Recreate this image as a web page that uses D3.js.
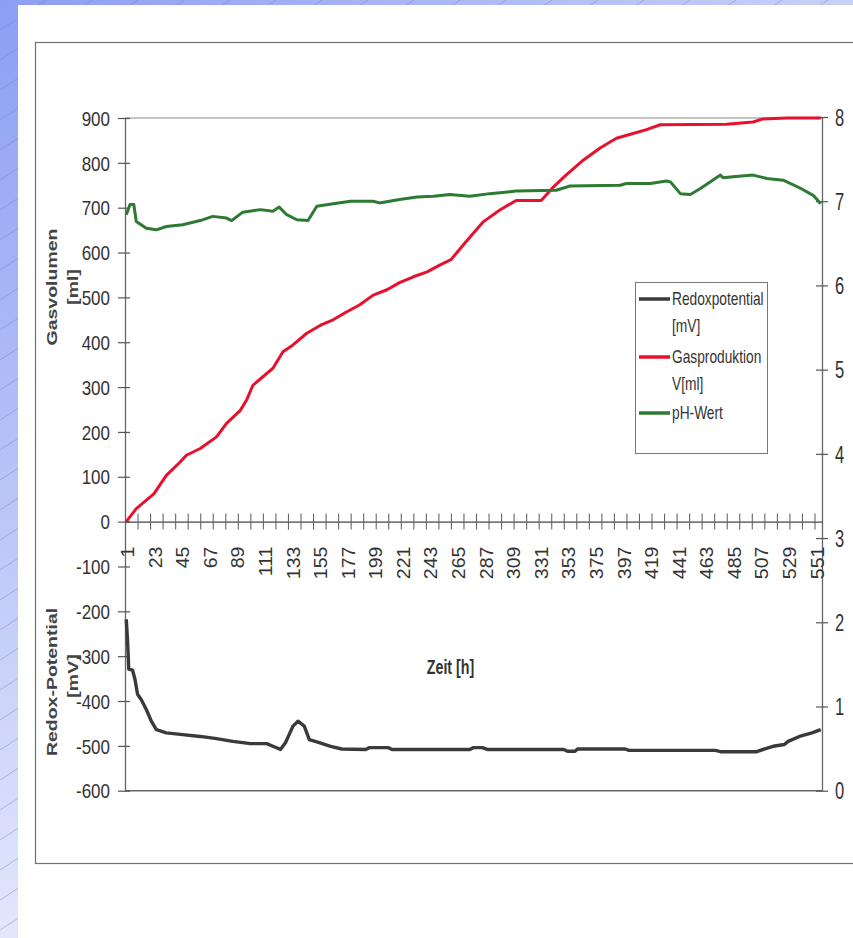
<!DOCTYPE html>
<html><head><meta charset="utf-8">
<script src="https://cdn.jsdelivr.net/npm/d3@7"></script>
<style>html,body{margin:0;padding:0;background:#fff;} svg{display:block;}</style>
</head><body>
<svg id="c" width="853" height="938"></svg>
<script>
// ---------- data ----------
const xLabels = [1,23,45,67,89,111,133,155,177,199,221,243,265,287,309,331,353,375,397,419,441,463,485,507,529,551];
const leftTicks = [900,800,700,600,500,400,300,200,100,0,-100,-200,-300,-400,-500,-600];
const rightTicks = [0,1,2,3,4,5,6,7,8];

// Gasproduktion V[ml]  [hour, ml]
const gasPoints = [[1,0],[9,29],[23,62],[33,103],[44,133],[49,148],[60,163],[73,189],[81,219],[92,248],[97,271],[102,304],[110,323],[118,342],[126,379],[134,394],[145,420],[156,438],[166,450],[177,468],[187,483],[198,505],[209,517],[219,533],[230,546],[241,557],[251,572],[260,584],[272,624],[286,669],[299,695],[312,716],[332,716],[341,744],[352,773],[366,807],[379,833],[392,855],[406,866],[416,874],[427,885],[480,886],[501,891],[509,898],[528,900],[555,900]];

// pH-Wert  [hour, pH]
const phPoints = [[1,6.84],[4,6.96],[7,6.96],[9,6.76],[17,6.68],[25,6.66],[33,6.70],[46,6.72],[60,6.77],[70,6.82],[81,6.80],[85,6.77],[94,6.87],[108,6.90],[118,6.88],[123,6.93],[129,6.84],[137,6.78],[146,6.77],[153,6.94],[166,6.97],[180,7.00],[198,7.00],[203,6.98],[219,7.02],[233,7.05],[246,7.06],[259,7.08],[275,7.06],[291,7.09],[312,7.12],[344,7.13],[355,7.18],[395,7.19],[400,7.21],[419,7.21],[432,7.24],[435,7.23],[443,7.09],[451,7.08],[459,7.15],[467,7.23],[475,7.31],[477,7.28],[485,7.29],[501,7.31],[512,7.27],[525,7.25],[538,7.16],[549,7.07],[555,6.97]];

// Redoxpotential [mV]  [hour, mV]
const redoxPoints = [[1,-218],[2,-263],[3,-329],[6,-331],[8,-352],[10,-385],[13,-397],[17,-419],[21,-445],[25,-464],[33,-471],[46,-475],[60,-479],[73,-484],[86,-490],[100,-495],[113,-495],[118,-501],[124,-508],[128,-493],[134,-456],[138,-445],[143,-456],[147,-486],[155,-493],[164,-501],[173,-507],[192,-508],[195,-504],[210,-504],[213,-508],[275,-508],[278,-504],[285,-504],[289,-508],[350,-508],[353,-512],[359,-512],[361,-507],[399,-507],[402,-510],[471,-510],[475,-513],[504,-513],[511,-506],[517,-501],[526,-497],[529,-490],[538,-479],[548,-471],[555,-464]];

const legendItems = [
  {lines:["Redoxpotential","[mV]"], color:"#3a3a3a"},
  {lines:["Gasproduktion","V[ml]"], color:"#e8112d"},
  {lines:["pH-Wert"], color:"#2d7a33"}
];

// ---------- drawing ----------
const svg = d3.select("#c");
const defs = svg.append("defs");
const gv = defs.append("linearGradient").attr("id","gv").attr("x1",0).attr("y1",0).attr("x2",0).attr("y2",1);
gv.append("stop").attr("offset","0%").attr("stop-color","#8c9ef3");
gv.append("stop").attr("offset","100%").attr("stop-color","#e3e7fc");
const gh = defs.append("linearGradient").attr("id","gh").attr("x1",0).attr("y1",0).attr("x2",1).attr("y2",0);
gh.append("stop").attr("offset","0%").attr("stop-color","#8c9ef3");
gh.append("stop").attr("offset","100%").attr("stop-color","#c9d1f8");
const pat = defs.append("pattern").attr("id","hatch").attr("patternUnits","userSpaceOnUse").attr("width",46).attr("height",30);
pat.append("line").attr("x1",0).attr("y1",30).attr("x2",46).attr("y2",0).attr("stroke","#6f7cc0").attr("stroke-opacity",0.55).attr("stroke-width",0.8);

svg.append("rect").attr("width",853).attr("height",938).attr("fill","#fff");
svg.append("rect").attr("x",0).attr("y",0).attr("width",18).attr("height",938).attr("fill","url(#gv)");
svg.append("rect").attr("x",0).attr("y",0).attr("width",853).attr("height",5).attr("fill","url(#gh)");
svg.append("rect").attr("x",0).attr("y",0).attr("width",18).attr("height",938).attr("fill","url(#hatch)");
svg.append("rect").attr("x",0).attr("y",0).attr("width",853).attr("height",5).attr("fill","url(#hatch)");

// outer frame
svg.append("rect").attr("x",35.5).attr("y",42.5).attr("width",840).attr("height",821)
  .attr("fill","none").attr("stroke","#707070").attr("stroke-width",1.2);

const FONT = "'Liberation Sans', Arial, Helvetica, sans-serif";
const x = d3.scaleLinear().domain([0,556]).range([125,822]);
const yL = d3.scaleLinear().domain([-600,900]).range([790.7,118]);
const yR = d3.scaleLinear().domain([0,8]).range([790.7,117]);
const plainFmt = d => String(d);

// plot border lines
svg.append("line").attr("x1",125).attr("x2",822).attr("y1",118).attr("y2",118).attr("stroke","#8a8a8a").attr("stroke-width",1.2);
svg.append("line").attr("x1",125).attr("x2",822).attr("y1",790.7).attr("y2",790.7).attr("stroke","#666").attr("stroke-width",1.4);

// left axis
const gl = svg.append("g").attr("transform","translate(125,0)")
  .call(d3.axisLeft(yL).tickValues(leftTicks).tickSize(0).tickSizeOuter(0).tickFormat(plainFmt));
gl.select(".domain").attr("stroke","#666").attr("stroke-width",1.3);
gl.selectAll(".tick line").attr("x1",-7).attr("x2",5).attr("stroke","#555").attr("stroke-width",1.2);
gl.selectAll(".tick text").attr("x",0).attr("dy","0.36em").attr("text-anchor","end")
  .attr("transform","translate(-15,0) scale(0.85,1)")
  .attr("font-family",FONT).attr("font-size",20).attr("fill","#333");

// right axis
const gr = svg.append("g").attr("transform","translate(822,0)")
  .call(d3.axisRight(yR).tickValues(rightTicks).tickSize(0).tickSizeOuter(0).tickFormat(plainFmt));
gr.select(".domain").attr("stroke","#666").attr("stroke-width",1.3);
gr.selectAll(".tick line").attr("x1",-6).attr("x2",6).attr("stroke","#555").attr("stroke-width",1.2);
gr.selectAll(".tick text").attr("x",0).attr("dy","0.36em").attr("text-anchor","start")
  .attr("transform","translate(13,0) scale(0.72,1)")
  .attr("font-family",FONT).attr("font-size",23).attr("fill","#333");

// x axis (tick marks every 10 h)
const y0 = yL(0);
const gx = svg.append("g").attr("transform",`translate(0,${y0})`)
  .call(d3.axisBottom(x).tickValues(d3.range(10,551,10)).tickSize(0).tickSizeOuter(0).tickFormat(""));
gx.select(".domain").attr("stroke","#444").attr("stroke-width",1.3);
gx.selectAll(".tick line").attr("y1",-8).attr("y2",8).attr("stroke","#666").attr("stroke-width",1.1);

// x labels
const gxl = svg.append("g").attr("transform",`translate(0,${y0})`)
  .call(d3.axisBottom(x).tickValues(xLabels).tickSize(0).tickSizeOuter(0).tickFormat(plainFmt));
gxl.select(".domain").remove();
gxl.selectAll(".tick text").attr("x",0).attr("y",0).attr("dy","0.36em").attr("text-anchor","end")
  .attr("transform","translate(1,25) rotate(-90) scale(1,0.9)")
  .attr("font-family",FONT).attr("font-size",19.5).attr("fill","#333");

// series
const line = (yS) => d3.line().x(d=>x(d[0])).y(d=>yS(d[1]));
svg.append("path").datum(redoxPoints).attr("d",line(yL)).attr("fill","none")
  .attr("stroke","#3a3a3a").attr("stroke-width",3.4).attr("stroke-linejoin","round");
svg.append("path").datum(gasPoints).attr("d",line(yL)).attr("fill","none")
  .attr("stroke","#e8112d").attr("stroke-width",3).attr("stroke-linejoin","round");
svg.append("path").datum(phPoints).attr("d",line(yR)).attr("fill","none")
  .attr("stroke","#2d7a33").attr("stroke-width",3).attr("stroke-linejoin","round");

// axis titles
function rotText(t, cx, cy) {
  svg.append("text").text(t)
    .attr("transform",`translate(${cx},${cy}) rotate(-90) scale(1,0.76)`)
    .attr("text-anchor","middle").attr("dy","0.36em")
    .attr("font-family",FONT).attr("font-weight","bold").attr("font-size",19.5).attr("fill","#444");
}
rotText("Gasvolumen", 52, 287);
rotText("[ml]", 73, 287);
rotText("Redox-Potential", 52, 682);
rotText("[mV]", 73, 676);
svg.append("text").text("Zeit [h]")
  .attr("transform","translate(450.5,674) scale(0.73,1)")
  .attr("text-anchor","middle")
  .attr("font-family",FONT).attr("font-weight","bold").attr("font-size",19.5).attr("fill","#333");

// legend
const lg = svg.append("g");
lg.append("rect").attr("x",635.5).attr("y",282.5).attr("width",132).attr("height",171)
  .attr("fill","#fff").attr("stroke","#777").attr("stroke-width",1);
const lineYs = [299, 357, 413];
legendItems.forEach((it,i)=>{
  const ly = lineYs[i];
  lg.append("line").attr("x1",639).attr("x2",670).attr("y1",ly).attr("y2",ly)
    .attr("stroke",it.color).attr("stroke-width",3.5);
  it.lines.forEach((t,j)=>{
    lg.append("text").text(t)
      .attr("transform",`translate(672,${ly+6+j*26.5}) scale(0.764,1)`)
      .attr("font-family",FONT).attr("font-size",18).attr("fill","#333");
  });
});
</script>
</body></html>
